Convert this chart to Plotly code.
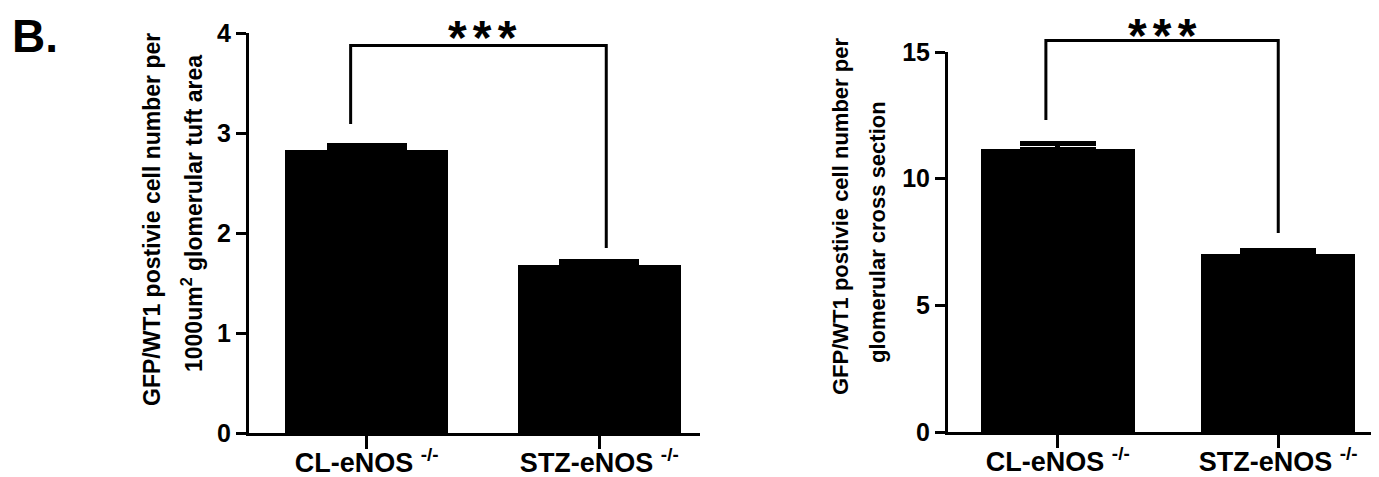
import plotly.graph_objects as go

# ---------------- data ----------------
categories = ["CL-eNOS", "STZ-eNOS"]
tick_labels = ["CL-eNOS <sup>-/-</sup>", "STZ-eNOS <sup>-/-</sup>"]
left_means = [2.83, 1.68]
left_sem = [0.05, 0.04]
right_means = [11.17, 7.03]
right_sem = [0.23, 0.14]
left_yticks = [0, 1, 2, 3, 4]
right_yticks = [0, 5, 10, 15]
left_title = ["GFP/WT1 postivie cell number per", "1000um<sup>2</sup> glomerular tuft area"]
right_title = ["GFP/WT1 postivie cell number per", "glomerular cross section"]
significance = "***"
# significance bracket heights: [left leg bottom, right leg bottom, top bar]
left_bracket = [3.09, 1.85, 3.875]
right_bracket = [12.32, 7.86, 15.45]
panel_label = "B."

# ---------------- layout constants ----------------
OFF = 8  # page body margin in the browser
W, H = 1379 - OFF, 477 - OFF
FONT = "Liberation Sans"
xpos = [0, 1]
left_xrange = [-0.506, 1.433]
right_xrange = [-0.498, 1.457]
left_yrange = [0, 4]
right_yrange = [0, 15]
left_bracket_x = [-0.069, 1.03]
right_bracket_x = [-0.054, 1.0]


def px(x):
    return (x - OFF) / W


def py(y):
    return 1 - (y - OFF) / H


fig = go.Figure()

fig.add_trace(go.Bar(
    x=xpos, y=left_means, width=0.7,
    marker=dict(color="black", line=dict(width=0)),
    error_y=dict(type="data", array=left_sem, symmetric=False, arrayminus=[0, 0],
                 color="black", thickness=5, width=40),
    xaxis="x", yaxis="y", showlegend=False,
))
fig.add_trace(go.Bar(
    x=xpos, y=right_means, width=0.7,
    marker=dict(color="black", line=dict(width=0)),
    error_y=dict(type="data", array=right_sem, symmetric=False, arrayminus=[0, 0],
                 color="black", thickness=5, width=38),
    xaxis="x2", yaxis="y2", showlegend=False,
))

axis_common = dict(showline=True, linecolor="black", linewidth=3, ticks="outside",
                   tickcolor="black", tickwidth=3, showgrid=False, zeroline=False,
                   mirror=False, automargin=False)

fig.update_layout(
    template="none",
    width=W, height=H,
    margin=dict(l=0, r=0, t=0, b=0, autoexpand=False),
    paper_bgcolor="white", plot_bgcolor="white",
    bargap=0,
    xaxis=dict(domain=[px(249), px(700)], range=left_xrange, tickvals=xpos,
               ticktext=tick_labels, ticklen=13, anchor="y", ticklabelstandoff=-9,
               tickfont=dict(family=FONT, size=27, color="black", weight="bold"),
               **axis_common),
    yaxis=dict(domain=[py(433), py(33)], range=left_yrange, tickvals=left_yticks,
               ticklen=10, anchor="x",
               tickfont=dict(family=FONT, size=25, color="black", weight="bold"),
               **axis_common),
    xaxis2=dict(domain=[px(948), 1.0], range=right_xrange, tickvals=xpos,
                ticktext=tick_labels, ticklen=13, anchor="y2", ticklabelstandoff=-9,
                tickfont=dict(family=FONT, size=27, color="black", weight="bold"),
                **axis_common),
    yaxis2=dict(domain=[py(432), py(52)], range=right_yrange, tickvals=right_yticks,
                ticklen=10, anchor="x2",
                tickfont=dict(family=FONT, size=25, color="black", weight="bold"),
                **axis_common),
)


def frac(v, r):
    return (v - r[0]) / (r[1] - r[0])


def add_bracket(xn, yn, bx, br, xr, yr):
    x0, x1 = frac(bx[0], xr), frac(bx[1], xr)
    yl, yrr, yt = frac(br[0], yr), frac(br[1], yr), frac(br[2], yr)
    path = f"M {x0} {yl} L {x0} {yt} L {x1} {yt} L {x1} {yrr}"
    fig.add_shape(type="path", path=path, xref=f"{xn} domain", yref=f"{yn} domain",
                  line=dict(color="black", width=3), layer="above")


add_bracket("x", "y", left_bracket_x, left_bracket, left_xrange, left_yrange)
add_bracket("x2", "y2", right_bracket_x, right_bracket, right_xrange, right_yrange)

# significance stars, slightly spaced apart like the original
star_text = "<span style='font-size:22px'> </span>".join(significance)
fig.add_annotation(x=frac(0.5, left_xrange), y=py(37), xref="x domain", yref="paper",
                   text=star_text, showarrow=False,
                   font=dict(family=FONT, size=48, color="black", weight="bold"),
                   xanchor="center", yanchor="middle")
fig.add_annotation(x=frac(0.475, right_xrange), y=py(35), xref="x2 domain", yref="paper",
                   text=star_text, showarrow=False,
                   font=dict(family=FONT, size=48, color="black", weight="bold"),
                   xanchor="center", yanchor="middle")

# axis titles (two rotated lines each)
for text, cx, cy, size in [
    (left_title[0], 152, 220, 23),
    (left_title[1], 192, 214, 23),
    (right_title[0], 840, 217, 22),
    (right_title[1], 877, 232, 22),
]:
    fig.add_annotation(x=px(cx), y=py(cy), xref="paper", yref="paper", text=text,
                       textangle=-90, showarrow=False, xanchor="center", yanchor="middle",
                       font=dict(family=FONT, size=size, color="black", weight="bold"))

# panel label
fig.add_annotation(x=px(10), y=py(8), xref="paper", yref="paper", text=panel_label,
                   showarrow=False, xanchor="left", yanchor="top",
                   font=dict(family=FONT, size=46, color="black", weight="bold"))

fig.write_html("out.html")
